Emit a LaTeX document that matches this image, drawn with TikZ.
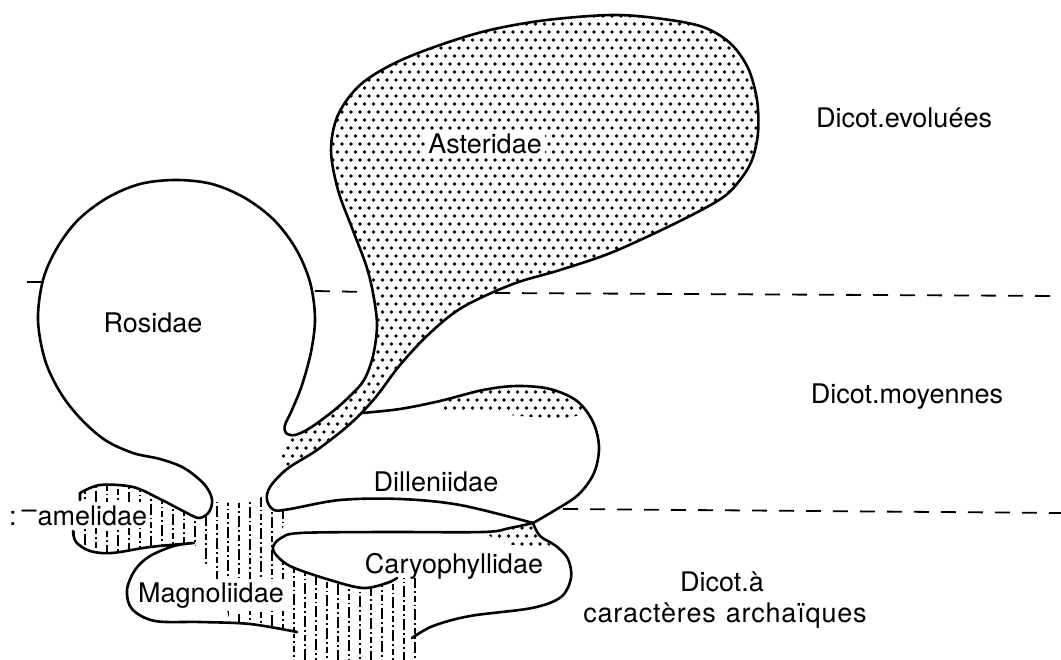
\documentclass[tikz,border=0pt]{standalone}
\usepackage{fontspec}
\setmainfont{TeX Gyre Heros}
\begin{document}
\begin{tikzpicture}[x=1pt,y=-1pt,
  outline/.style={line width=2.6pt, line join=round, line cap=round},
  divider/.style={line width=1.8pt, dash pattern=on 15pt off 12pt},
  lab/.style={font=\fontsize{27}{31}\selectfont, inner sep=1pt, anchor=base},
  clearlab/.style={lab, fill=white, inner sep=3pt},
  hatchline/.style={line width=1.6pt, dash pattern=on 11pt off 3pt on 1.8pt off 3pt on 6pt off 3pt on 1.8pt off 3pt}]
\useasboundingbox (0,0) rectangle (1061,660);

% ---- dots: Asteridae
\begin{scope}
\clip plot[smooth, tension=0.55] coordinates {(295,435) (310,428) (332,412) (350,396) (364,380) (373,356) (377,325) (373,293) (366,265) (352,228) (338,190) (331,150) (338,115) (360,85) (395,63) (440,45) (490,30) (547,20) (613,15) (663,19) (703,27) (730,43) (748,68) (757,100) (758,133) (752,160) (740,180) (722,198) (680,221) (613,252) (560,270) (513,284) (463,307) (430,333) (400,365) (375,398) (350,424) (317,450) (287,469)} -- (280,452) -- cycle;
\fill \foreach \j in {1,...,59} {\foreach \i in {31,...,86} {({9*\i+4.5*mod(\j,2)},{8*\j}) circle (1.8pt)}};
\end{scope}
% ---- dots: Dilleniidae band
\begin{scope}
\clip (440,401) -- (483,390) -- (517,386) -- (550,389) -- (577,401) -- (587,414) -- (560,419) -- (520,416) -- (480,412) -- (445,410) -- cycle;
\fill \foreach \j in {48,...,53} {\foreach \i in {48,...,66} {({9*\i+4.5*mod(\j,2)},{8*\j}) circle (1.8pt)}};
\end{scope}
% ---- dots: Caryophyllidae corner
\begin{scope}
\clip (485,532) -- (533,523) -- (541,537) -- (552,546) -- (520,547) -- (495,540) -- cycle;
\fill \foreach \j in {65,...,69} {\foreach \i in {53,...,62} {({9*\i+4.5*mod(\j,2)},{8*\j}) circle (1.8pt)}};
\end{scope}

% ---- hatching
\begin{scope}
\clip (80,493) -- (100,485) -- (133,487) -- (160,499) -- (185,512) -- (199,518) -- (209,512) -- (212,502) -- (240,503) -- (262,497) -- (268,504) -- (277,511) -- (290,511) -- (284,525) -- (276,540) -- (273,547) -- (277,556) -- (292,567) -- (330,580) -- (363,588) -- (387,583) -- (397,578) -- (420,578) -- (420,660) -- (285,660) -- (285,640) -- (297,632) -- (250,624) -- (230,623) -- (226,605) -- (216,585) -- (205,563) -- (194,543) -- (150,547) -- (112,553) -- (90,551) -- (76,542) -- (73,531) -- cycle;
\foreach \k in {0,...,31} {
  \pgfmathsetmacro\hx{74+11*\k}
  \pgfmathsetmacro\ph{mod(\k*11,34)}
  \draw[hatchline, dash phase=\ph pt] (\hx,480) -- (\hx,660);
}
\end{scope}

% ---- labels
\node[clearlab] (asteridae) at (485,154) {Asteridae};
\node[lab] (rosidae) at (153,333) {Rosidae};
\node[lab] (dilleniidae) at (436,491) {Dilleniidae};
\node[clearlab, anchor=base west] (hamamelidae) at (6,525) {:\kern5pt\raisebox{.45ex}{--}\kern1pt amelidae};
\node[clearlab] (magnoliidae) at (211,602) {Magnoliidae};
\node[lab] (caryophyllidae) at (454,573) {Caryophyllidae};
\node[lab] (evoluees) at (904,128) {Dicot.evoluées};
\node[lab] (moyennes) at (907,403) {Dicot.moyennes};
\node[lab] (archa) at (722,591) {Dicot.à};
\node[lab, font=\fontsize{27}{31}\selectfont\addfontfeature{LetterSpace=3}] (archb) at (725,622) {caractères\hspace{10pt}archaïques};

% ---- outlines
\draw[outline] (80,500) -- (80,493)
  plot[smooth, tension=0.55] coordinates {(80,493) (100,485) (133,487) (160,499) (185,512) (199,518) (209,512) (212,499) (204,484) (184,468) (160,459) (133,453) (105,440) (80,418) (60,392) (45,360) (38,320) (43,280) (57,248) (78,220) (107,198) (140,184) (176,180) (212,184) (245,198) (274,220) (296,249) (310,282) (315,318) (311,352) (302,385) (292,410) (285,425) (286,433) (295,435) (310,428) (332,412) (350,396) (364,380) (373,356) (377,325) (373,293) (366,265) (352,228) (338,190) (331,150) (338,115) (360,85) (395,63) (440,45) (490,30) (547,20) (613,15) (663,19) (703,27) (730,43) (748,68) (757,100) (758,133) (752,160) (740,180) (722,198) (680,221) (613,252) (560,270) (513,284) (463,307) (430,333) (400,365) (375,398) (350,424) (317,450) (287,469) (270,487) (267,500) (274,510) (290,509) (340,500) (400,499) (460,505) (533,523)};
% Dilleniidae hump
\draw[outline] plot[smooth, tension=0.55] coordinates {(362,413) (400,409) (440,401) (483,390) (517,386) (550,389) (577,401) (593,422) (599,447) (594,473) (578,495) (552,512) (533,523)};
% Caryophyllidae
\draw[outline] plot[smooth, tension=0.55] coordinates {(397,578) (387,583) (363,588) (330,580) (292,567) (277,556) (273,547) (281,538) (300,533) (383,532) (483,532) (510,528) (533,523)};
\draw[outline] plot[smooth, tension=0.55] coordinates {(533,523) (540,536) (556,546) (568,559) (571,578) (561,597) (532,608) (470,616) (433,626) (412,638)};
% Hamamelidae bottom and Magnoliidae
\draw[outline] plot[smooth, tension=0.55] coordinates {(73,531) (76,542) (90,551) (112,553) (150,547) (194,543)}
  -- plot[smooth, tension=0.55] coordinates {(194,543) (174,546) (150,556) (135,570) (127,590) (132,609) (155,621) (200,622) (250,624) (297,632)};

% ---- level dividers
\draw[divider] (27,282) -- (42,282);
\draw[divider] (315,291) -- (366,292);
\draw[divider] (495,293) -- (1061,296);
\draw[divider] (563,509) -- (1061,513);
\end{tikzpicture}
\end{document}
